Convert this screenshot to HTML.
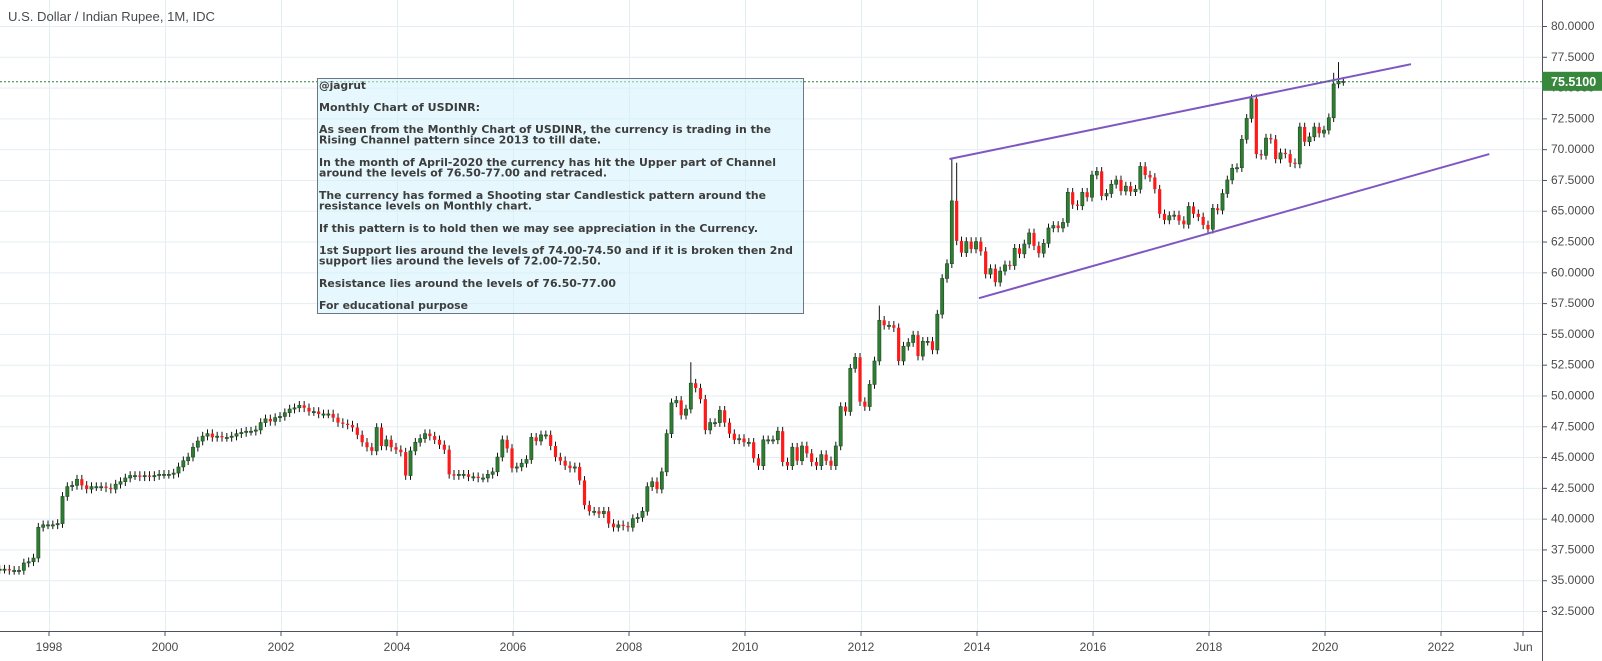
<!DOCTYPE html>
<html><head><meta charset="utf-8"><title>USDINR Monthly</title>
<style>
html,body{margin:0;padding:0;background:#fff;}
svg{display:block;font-family:"Liberation Sans",sans-serif;}
</style></head>
<body>
<svg id="chart" width="1602" height="661" viewBox="0 0 1602 661" xmlns="http://www.w3.org/2000/svg">
<g id="grid"></g>
<g id="candles"></g>
<g id="channel"></g>
<line id="lastLine" x1="0" x2="1542" stroke="#2e7d32" stroke-width="1" stroke-dasharray="2,2"/>
<g>
<rect x="317.5" y="78.5" width="486" height="235" fill="rgba(210,242,252,0.55)" stroke="#6b7885" stroke-width="1"/>
<g fill="#3d3d3d" font-family="'DejaVu Sans',sans-serif" font-weight="bold" font-size="11">
<text x="319" y="89" textLength="47" lengthAdjust="spacingAndGlyphs">@jagrut</text>
<text x="319" y="111" textLength="161" lengthAdjust="spacingAndGlyphs">Monthly Chart of USDINR:</text>
<text x="319" y="133" textLength="452" lengthAdjust="spacingAndGlyphs">As seen from the Monthly Chart of USDINR, the currency is trading in the</text>
<text x="319" y="143.5" textLength="282" lengthAdjust="spacingAndGlyphs">Rising Channel pattern since 2013 to till date.</text>
<text x="319" y="166" textLength="457" lengthAdjust="spacingAndGlyphs">In the month of April-2020 the currency has hit the Upper part of Channel</text>
<text x="319" y="176.5" textLength="288" lengthAdjust="spacingAndGlyphs">around the levels of 76.50-77.00 and retraced.</text>
<text x="319" y="199" textLength="447" lengthAdjust="spacingAndGlyphs">The currency has formed a Shooting star Candlestick pattern around the</text>
<text x="319" y="209.5" textLength="213" lengthAdjust="spacingAndGlyphs">resistance levels on Monthly chart.</text>
<text x="319" y="232" textLength="439" lengthAdjust="spacingAndGlyphs">If this pattern is to hold then we may see appreciation in the Currency.</text>
<text x="319" y="254" textLength="474" lengthAdjust="spacingAndGlyphs">1st Support lies around the levels of 74.00-74.50 and if it is broken then 2nd</text>
<text x="319" y="264.5" textLength="282" lengthAdjust="spacingAndGlyphs">support lies around the levels of 72.00-72.50.</text>
<text x="319" y="287" textLength="297" lengthAdjust="spacingAndGlyphs">Resistance lies around the levels of 76.50-77.00</text>
<text x="319" y="309" textLength="149" lengthAdjust="spacingAndGlyphs">For educational purpose</text>
</g></g>
<g id="axes"></g>
<text x="8" y="21" font-size="13" fill="#4a4a4a" textLength="207" lengthAdjust="spacingAndGlyphs">U.S. Dollar / Indian Rupee, 1M, IDC</text>
</svg>
<script>
// monthly closes, starting Mar 1997
const y1997 = [35.9,35.9,35.8,35.8,35.8,36.4,36.5,36.8,39.3,39.5];
const y1998 = [39.5,39.5,39.6,41.8,42.6,42.7,43.2,42.7,42.4,42.6,42.6,42.6];
const y1999 = [42.5,42.4,42.8,43.0,43.3,43.5,43.5,43.4,43.5,43.4,43.5,43.6];
const y2000 = [43.6,43.6,43.7,44.2,44.7,45.0,45.8,46.3,46.7,46.9,46.6,46.7];
const y2001 = [46.6,46.6,46.7,46.9,47.0,47.1,47.1,47.2,47.8,48.1,47.9,48.2];
const y2002 = [48.3,48.6,48.9,49.0,49.2,49.0,48.7,48.7,48.5,48.5,48.5,48.2];
const y2003 = [47.8,47.7,47.6,47.4,46.8,46.2,45.8,45.5,47.4,45.9,46.4,45.8];
const y2004 = [45.6,45.4,43.5,45.5,46.2,46.5,46.9,46.7,46.4,46.0,45.6,43.6];
const y2005 = [43.5,43.6,43.6,43.4,43.4,43.3,43.3,43.6,43.8,45.0,46.4,45.7];
const y2006 = [44.1,44.2,44.5,44.8,46.6,46.3,46.8,46.8,45.9,45.0,44.7,44.3];
const y2007 = [44.1,44.2,43.1,41.1,40.6,40.6,40.4,40.6,39.6,39.3,39.5,39.4];
const y2008 = [39.3,40.0,40.1,40.6,42.6,43.0,42.4,43.8,46.9,49.4,49.6,48.4];
const y2009 = [48.9,51.0,50.6,49.7,47.2,47.8,47.8,48.8,47.8,46.9,46.4,46.5];
const y2010 = [46.2,46.2,44.9,44.3,46.4,46.4,46.4,47.1,44.6,44.3,45.8,44.7];
const y2011 = [45.9,45.3,44.6,44.3,45.2,44.7,44.3,45.9,49.1,48.7,52.2,53.1];
const y2012 = [49.5,49.1,50.9,52.8,56.1,55.7,55.7,55.5,52.8,54.0,54.3,54.9];
const y2013 = [53.2,54.4,54.4,53.7,56.6,59.5,60.7,65.8,62.55,61.6,62.5,61.9];
const y2014 = [62.5,61.7,59.85,60.3,59.2,60.1,60.6,60.55,61.95,61.5,62.3,63.2];
const y2015 = [62.15,61.55,62.35,63.6,63.8,63.6,64.05,66.5,65.5,65.4,66.5,66.1];
const y2016 = [67.9,68.2,66.2,66.4,67.15,67.5,66.6,67.0,66.55,66.75,68.6,67.9];
const y2017 = [67.7,66.75,64.75,64.25,64.6,64.65,64.2,63.9,65.35,64.75,64.5,63.85];
const y2018 = [63.5,65.2,65.05,66.4,67.5,68.45,68.5,70.8,72.5,74.1,69.6,69.5];
const y2019 = [70.9,70.8,69.2,69.7,69.6,68.9,68.8,71.8,70.6,71.0,71.8,71.3];
const y2020 = [71.55,72.55,75.3,75.5,75.51];
const startMonth = -10; // Mar 1997, months from Jan 1998
const firstOpen = 35.9;
// notable wick highs: month index (from Jan 1998) and high
const spikeMonths = [133,172,187,188,266,267];
const spikeHighs = [52.7,57.3,69.2,68.9,76.2,77.07];
const yTicks = [32.5,35,37.5,40,42.5,45,47.5,50,52.5,55,57.5,60,62.5,65,67.5,70,72.5,75,77.5,80];
const xTickYears = [1998,2000,2002,2004,2006,2008,2010,2012,2014,2016,2018,2020,2022];
const lastPrice = 75.51;
const upperChannelM = [186.5, 282];
const upperChannelP = [69.2, 76.9];
const lowerChannelM = [192.6, 298.2];
const lowerChannelP = [57.9, 69.6];

const closes = [].concat(y1997,y1998,y1999,y2000,y2001,y2002,y2003,y2004,y2005,y2006,y2007,y2008,y2009,y2010,y2011,y2012,y2013,y2014,y2015,y2016,y2017,y2018,y2019,y2020);
const NS = "http://www.w3.org/2000/svg";
const PLOT_R = 1542, PLOT_B = 631;
function yS(v){ return 26 + (80 - v) * 12.316; }
function xYear(yr){ return 49 + (yr - 1998) * 58; }
function xM(m){ return 49 + m * 58 / 12 - 1; }
function mk(tag, attrs, parent){ const e = document.createElementNS(NS, tag); for (const k in attrs) e.setAttribute(k, attrs[k]); parent.appendChild(e); return e; }

const grid = document.getElementById('grid');
yTicks.forEach(v => {
  const l = mk('line', {x1:0, x2:PLOT_R, y1:yS(v)+0.5, y2:yS(v)+0.5, stroke:'#e3edf3', 'stroke-width':1}, grid);
  
  
});
xTickYears.concat([2023.42]).forEach(yr => {
  const x = Math.round(xYear(yr)) + 0.5;
  const l = mk('line', {x1:x, x2:x, y1:0, y2:PLOT_B, stroke:'#e3edf3', 'stroke-width':1}, grid);
  
  
});

const cg = document.getElementById('candles');
let prev = firstOpen;
closes.forEach((c, i) => {
  const m = startMonth + i;
  const o = prev; prev = c;
  const x = xM(m);
  const up = c >= o;
  let hi = Math.max(o, c) + 0.35, lo = Math.min(o, c) - 0.35;
  spikeMonths.forEach((sm, k) => { if (sm === m) hi = Math.max(hi, spikeHighs[k]); });
  const w = mk('line', {x1:x, x2:x, y1:yS(hi), y2:yS(lo), stroke:'#111', 'stroke-width':1}, cg);
  
  
  const top = yS(Math.max(o, c)), bh = Math.max(1.2, yS(Math.min(o, c)) - top);
  const b = mk('rect', {x:x-1.6, y:top, width:3.2, height:bh, fill: up ? '#2e7d32' : '#ff1a1a', stroke: up ? '#1d4a20' : 'none', 'stroke-width':0.6}, cg);
  
  
});

const ch = document.getElementById('channel');
[[upperChannelM, upperChannelP, 'upper-channel-line'], [lowerChannelM, lowerChannelP, 'lower-channel-line']].forEach(s => {
  const l = mk('line', {x1:xM(s[0][0]), y1:yS(s[1][0]), x2:xM(s[0][1]), y2:yS(s[1][1]), stroke:'#7e57c2', 'stroke-width':2}, ch);
  
  
});

const ll = document.getElementById('lastLine');
ll.setAttribute('y1', yS(lastPrice) + 0.5); ll.setAttribute('y2', yS(lastPrice) + 0.5);

const ax = document.getElementById('axes');
mk('rect', {x:PLOT_R, y:0, width:60, height:661, fill:'#fff'}, ax);
mk('rect', {x:0, y:PLOT_B, width:PLOT_R, height:30, fill:'#fff'}, ax);
const ya = mk('line', {x1:PLOT_R+0.5, x2:PLOT_R+0.5, y1:0, y2:661, stroke:'#50535e', 'stroke-width':1}, ax);


const xa = mk('line', {x1:0, x2:PLOT_R, y1:PLOT_B+0.5, y2:PLOT_B+0.5, stroke:'#50535e', 'stroke-width':1}, ax);


yTicks.forEach(v => {
  const y = yS(v);
  mk('line', {x1:PLOT_R, x2:PLOT_R+5, y1:y+0.5, y2:y+0.5, stroke:'#50535e'}, ax);
  const t = mk('text', {x:1551, y:y+4, 'font-size':12, fill:'#4a4a4a'}, ax);
  t.textContent = v.toFixed(4);
  
  
});
xTickYears.forEach(yr => {
  const x = xYear(yr);
  mk('line', {x1:x, x2:x, y1:PLOT_B, y2:PLOT_B+5, stroke:'#50535e'}, ax);
  const t = mk('text', {x:x, y:651, 'font-size':12, fill:'#4a4a4a', 'text-anchor':'middle'}, ax);
  t.textContent = String(yr);
  
  
});
mk('line', {x1:1523, x2:1523, y1:PLOT_B, y2:PLOT_B+5, stroke:'#50535e'}, ax);
const jt = mk('text', {x:1523, y:651, 'font-size':12, fill:'#4a4a4a', 'text-anchor':'middle'}, ax);
jt.textContent = 'Jun';



const ly = yS(lastPrice);
const pr = mk('rect', {x:PLOT_R, y:ly-9.5, width:60, height:19, fill:'#37873d'}, ax);


const pt = mk('text', {x:1551, y:ly+4.5, 'font-size':12.5, 'font-weight':'bold', fill:'#fff'}, ax);
pt.textContent = lastPrice.toFixed(4);


</script>
</body></html>
